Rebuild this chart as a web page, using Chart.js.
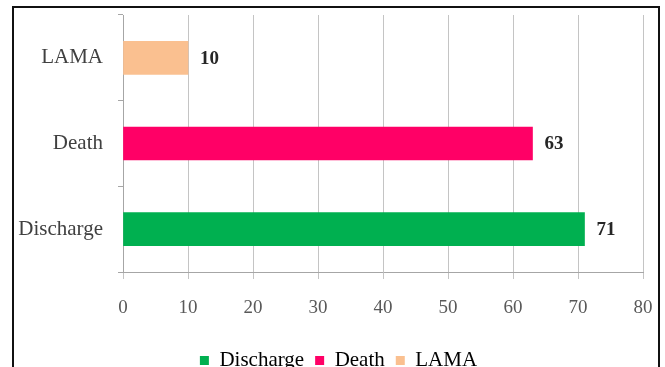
<!DOCTYPE html>
<html>
<head>
<meta charset="utf-8">
<script src="https://cdn.jsdelivr.net/npm/chart.js@4.4.1/dist/chart.umd.min.js"></script>
<style>
    html, body { margin: 0; padding: 0; background: #fff; overflow: hidden; }
    #wrap { position: relative; width: 665px; height: 367px; overflow: hidden; }
    #frame {
        position: absolute; left: 12px; top: 6px; width: 644px; height: 420px;
        border: 2px solid #111; pointer-events: none;
    }
    canvas { position: absolute; left: 0; top: 0; }
</style>
</head>
<body>
<div id="wrap">
    <canvas id="chart" width="665" height="386"></canvas>
    <div id="frame"></div>
</div>
<script>
    // Data
    const categories = ['Discharge', 'Death', 'LAMA'];
    const counts = [71, 63, 10];
    const barColors = ['#00B050', '#FF0066', '#FAC090'];
    const xTicks = [0, 10, 20, 30, 40, 50, 60, 70, 80];

    const serif = '"Liberation Serif", "DejaVu Serif", serif';

    // Value labels at bar ends
    const barLabels = {
        id: 'barLabels',
        afterDatasetsDraw(chart) {
            const ctx = chart.ctx;
            const meta = chart.getDatasetMeta(0);
            ctx.save();
            ctx.font = 'bold 19px ' + serif;
            ctx.fillStyle = '#262626';
            ctx.textAlign = 'left';
            ctx.textBaseline = 'middle';
            meta.data.forEach((bar, i) => {
                ctx.fillText(String(counts[i]), bar.x + 12, bar.y + 1);
            });
            ctx.restore();
        }
    };

    // nudge the legend a bit to the right, like the original
    const legendShift = {
        id: 'legendShift',
        afterLayout(chart) {
            chart.legend.left += 11;
            chart.legend.right += 11;
        }
    };

    const ctx = document.getElementById('chart').getContext('2d');
    new Chart(ctx, {
        type: 'bar',
        data: {
            labels: categories,
            datasets: [{
                label: 'Outcome',
                data: counts,
                backgroundColor: barColors,
                borderWidth: 0,
                barThickness: 33
            }]
        },
        options: {
            indexAxis: 'y',
            responsive: false,
            animation: false,
            layout: { padding: { left: 12, right: 22, top: 15, bottom: 5 } },
            scales: {
                x: {
                    min: 0,
                    max: 80,
                    afterBuildTicks: scale => { scale.ticks = xTicks.map(v => ({ value: v })); },
                    afterFit: scale => {
                        scale.height = 67;
                        scale.paddingLeft = 0;
                        scale.paddingRight = 0;
                    },
                    grid: { color: '#c4c4c4', lineWidth: 1, tickLength: 7, drawTicks: true },
                    border: { color: '#a6a6a6', width: 1 },
                    ticks: {
                        padding: 18,
                        color: '#595959',
                        font: { family: serif, size: 19 }
                    }
                },
                y: {
                    reverse: true,
                    afterFit: scale => {
                        scale.width = 111;
                        scale.paddingTop = 0;
                        scale.paddingBottom = 0;
                    },
                    grid: { offset: true, drawOnChartArea: false, color: '#a6a6a6', tickLength: 5 },
                    border: { color: '#a6a6a6', width: 1 },
                    ticks: {
                        padding: 15,
                        color: '#404040',
                        font: { family: serif, size: 21 }
                    }
                }
            },
            plugins: {
                tooltip: { enabled: false },
                legend: {
                    position: 'bottom',
                    labels: {
                        padding: 11,
                        boxWidth: 9,
                        boxHeight: 9,
                        color: '#404040',
                        font: { family: serif, size: 21 },
                        generateLabels: function(chart) {
                            return categories.map((c, i) => ({
                                text: c,
                                fillStyle: barColors[i],
                                strokeStyle: barColors[i],
                                lineWidth: 0,
                                hidden: false,
                                index: i
                            }));
                        }
                    }
                }
            }
        },
        plugins: [barLabels, legendShift]
    });
</script>
</body>
</html>
